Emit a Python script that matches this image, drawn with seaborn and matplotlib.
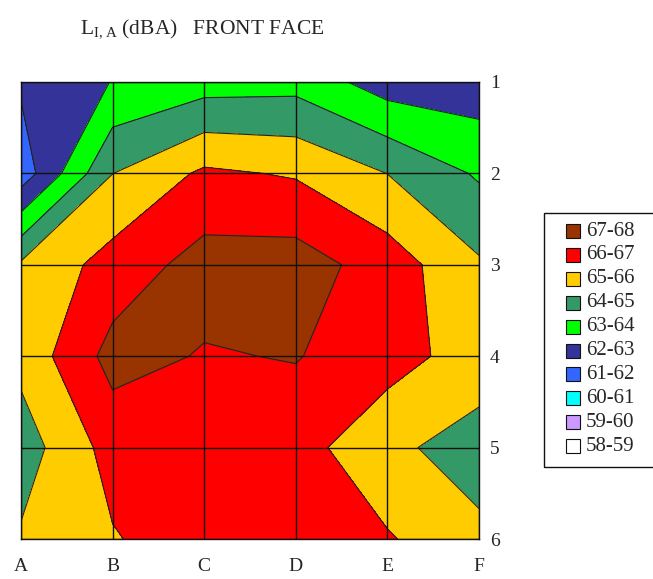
import numpy as np
import pandas as pd
import matplotlib
matplotlib.use('Agg')
import matplotlib.pyplot as plt
from matplotlib.patches import Rectangle
import seaborn as sns

# grid columns / rows
columns = ['A', 'B', 'C', 'D', 'E', 'F']
rows = ['1', '2', '3', '4', '5', '6']

# L_I,A values (dBA), one list per row, top to bottom
row1 = [62.15, 63.03, 63.55, 63.65, 62.50, 62.40]
row2 = [61.42, 64.99, 66.18, 65.90, 64.99, 63.87]
row3 = [65.15, 66.40, 67.40, 67.47, 66.53, 65.13]
row4 = [65.30, 67.35, 66.93, 67.05, 66.45, 65.50]
row5 = [64.50, 66.40, 66.70, 66.43, 65.20, 64.60]
row6 = [65.12, 65.92, 66.60, 66.60, 66.10, 65.20]

levels = [58, 59, 60, 61, 62, 63, 64, 65, 66, 67, 68]
level_colors = ['#FFFFFF', '#CC99FF', '#00FFFF', '#3366FF', '#333399',
                '#00FF00', '#339966', '#FFCC00', '#FF0000', '#993300']

df = pd.DataFrame([row1, row2, row3, row4, row5, row6], index=rows, columns=columns)

sns.set_style('white')
plt.rcParams['font.family'] = ['Liberation Serif', 'DejaVu Serif']
plt.rcParams['mathtext.fontset'] = 'custom'
plt.rcParams['mathtext.rm'] = 'Liberation Serif'

fig = plt.figure(figsize=(6.53, 5.79), dpi=100)
ax = fig.add_axes([21 / 653, 40 / 579, 458 / 653, 457 / 579])

xs = np.arange(len(columns))
ys = np.arange(len(rows))
ax.contourf(xs, ys, df.values, levels=levels, colors=level_colors)
ax.contour(xs, ys, df.values, levels=levels, colors='#222222', linewidths=0.8)

ax.set_xlim(0, len(columns) - 1)
ax.set_ylim(len(rows) - 1, 0)
ax.set_xticks(xs)
ax.set_xticklabels(columns, fontsize=14)
ax.set_yticks(ys)
ax.set_yticklabels(rows, fontsize=14)
ax.yaxis.tick_right()
ax.tick_params(axis='x', length=0, pad=14)
ax.tick_params(axis='y', length=0, pad=8)
ax.set_axisbelow(False)
ax.grid(True, color='#111111', linewidth=1)
for s in ax.spines.values():
    s.set_visible(True)
    s.set_color('#111111')
    s.set_linewidth(1)

# title with subscript
fig.text(80 / 653, 1 - 33 / 579, r'$\mathregular{L_{I,A}}$ (dBA)   FRONT FACE',
         fontsize=15.5, ha='left', va='baseline')

# legend box (runs past the right edge like the original)
W, H = 653, 579
fig.patches.append(Rectangle((544 / W, 1 - 467 / H), 130 / W, 254 / H,
                             transform=fig.transFigure, fill=False,
                             edgecolor='#111111', linewidth=1))
for i in range(len(level_colors)):
    k = len(level_colors) - 1 - i
    yc = 231 + i * 23.9
    fig.patches.append(Rectangle((566 / W, 1 - (yc + 7) / H), 14 / W, 14 / H,
                                 transform=fig.transFigure,
                                 facecolor=level_colors[k],
                                 edgecolor='#111111', linewidth=0.8))
    fig.text(586 / W, 1 - yc / H, f'{levels[k]}-{levels[k + 1]}',
             fontsize=15, ha='left', va='center')

fig.savefig('out.png', dpi=100)
